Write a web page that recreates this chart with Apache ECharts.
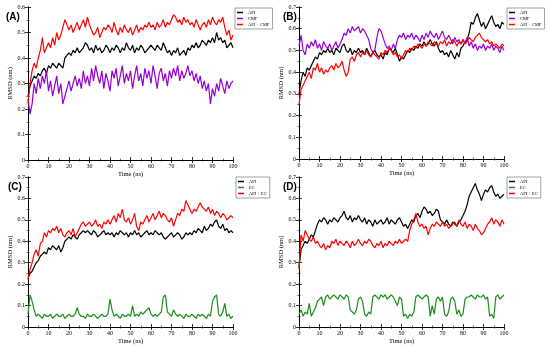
<!DOCTYPE html>
<html><head><meta charset="utf-8">
<script src="https://cdn.jsdelivr.net/npm/echarts@6/dist/echarts.min.js"></script>
<style>html,body{margin:0;padding:0;background:#fff}#c{width:550px;height:346px}</style>
</head><body><div id="c"></div>
<script>
const timeNs = Array.from({length:101},(_,i)=>i);
const panelLabels = ['(A)','(B)','(C)','(D)'];
const legendA = ['API','CMF','API + CMF'];
const legendC = ['API','EC','API + EC'];
const yMax = [0.6,0.7,0.7,0.7];

const A_api = [.25,.29,.31,.33,.32,.34,.33,.35,.36,.34,
.37,.36,.38,.37,.36,.38,.37,.36,.40,.41,
.42,.41,.43,.42,.44,.42,.43,.44,.46,.45,
.43,.44,.42,.45,.43,.44,.42,.43,.45,.44,
.42,.44,.43,.45,.44,.42,.44,.43,.46,.44,
.43,.45,.42,.44,.43,.45,.44,.42,.43,.44,
.45,.44,.43,.45,.44,.43,.46,.44,.42,.43,
.41,.43,.42,.44,.41,.42,.43,.41,.44,.43,
.45,.44,.46,.44,.45,.47,.46,.45,.47,.46,
.48,.46,.50,.47,.48,.46,.47,.44,.45,.46,.44];
const A_cmf = [.24,.18,.22,.30,.26,.32,.28,.33,.30,.35,
.27,.31,.25,.29,.33,.26,.30,.22,.25,.28,
.31,.27,.30,.33,.29,.32,.28,.35,.30,.33,
.29,.36,.31,.37,.33,.30,.35,.28,.34,.31,
.27,.35,.32,.36,.29,.33,.37,.30,.34,.31,
.35,.28,.33,.37,.31,.34,.29,.36,.32,.35,
.30,.37,.33,.28,.34,.36,.31,.34,.29,.35,
.32,.36,.33,.37,.31,.35,.32,.34,.37,.33,
.35,.31,.34,.30,.33,.28,.31,.27,.30,.22,
.28,.25,.30,.27,.32,.29,.26,.31,.28,.30,.31];
const A_mix = [.22,.30,.35,.38,.36,.40,.43,.48,.42,.44,
.46,.44,.48,.45,.50,.47,.49,.52,.55,.53,
.51,.53,.50,.52,.54,.51,.53,.55,.52,.56,
.53,.51,.49,.50,.52,.48,.50,.52,.51,.53,
.52,.50,.54,.51,.49,.52,.50,.53,.51,.50,
.52,.49,.51,.53,.50,.52,.51,.53,.52,.54,
.52,.53,.51,.54,.52,.53,.55,.52,.54,.53,
.55,.57,.56,.54,.55,.53,.56,.54,.55,.53,
.54,.52,.55,.53,.51,.53,.54,.52,.55,.53,
.56,.54,.53,.55,.54,.56,.52,.49,.51,.47,.49];

const B_api = [.30,.36,.40,.38,.42,.41,.43,.45,.47,.46,
.49,.48,.50,.49,.51,.49,.50,.48,.51,.50,
.49,.52,.53,.50,.49,.51,.48,.50,.49,.51,
.49,.50,.48,.51,.49,.47,.49,.50,.48,.47,
.48,.46,.49,.48,.51,.50,.49,.51,.48,.45,
.47,.46,.48,.50,.49,.51,.50,.52,.51,.53,
.52,.54,.52,.53,.55,.53,.52,.54,.51,.49,
.50,.48,.49,.47,.50,.48,.46,.49,.47,.51,
.52,.54,.55,.58,.63,.62,.65,.67,.64,.61,
.63,.60,.62,.64,.66,.63,.61,.62,.60,.63,.62];
const B_cmf = [.52,.57,.50,.48,.53,.51,.54,.52,.55,.51,
.53,.50,.54,.52,.51,.53,.50,.52,.54,.51,
.53,.55,.58,.57,.60,.58,.61,.59,.60,.61,
.58,.60,.59,.57,.55,.51,.49,.50,.56,.60,
.59,.56,.53,.51,.52,.50,.53,.51,.55,.57,
.56,.58,.55,.57,.56,.58,.55,.57,.56,.54,
.57,.55,.58,.56,.59,.57,.56,.58,.55,.57,
.59,.56,.55,.57,.55,.53,.56,.54,.55,.53,
.55,.53,.56,.52,.54,.51,.53,.50,.52,.51,
.53,.50,.52,.51,.53,.50,.52,.51,.49,.52,.50];
const B_mix = [.25,.32,.34,.36,.38,.40,.37,.42,.41,.44,
.40,.42,.39,.41,.40,.42,.43,.41,.44,.42,
.43,.45,.41,.38,.40,.46,.47,.45,.48,.49,
.47,.49,.48,.50,.48,.47,.49,.48,.47,.46,
.49,.48,.50,.49,.51,.50,.48,.49,.47,.48,
.46,.48,.50,.49,.51,.50,.52,.51,.53,.52,
.51,.53,.52,.54,.53,.52,.54,.53,.52,.54,
.53,.55,.52,.54,.53,.55,.54,.52,.54,.53,
.55,.53,.54,.56,.55,.54,.56,.57,.58,.56,
.55,.54,.55,.53,.54,.52,.53,.52,.51,.53,.52];

const C_api = [.23,.25,.26,.28,.30,.31,.33,.34,.35,.34,
.37,.36,.38,.37,.36,.38,.35,.37,.40,.41,
.42,.41,.43,.42,.41,.43,.44,.45,.44,.45,
.44,.43,.45,.44,.42,.43,.44,.45,.43,.44,
.43,.44,.42,.44,.43,.45,.44,.43,.44,.42,
.44,.43,.45,.43,.44,.42,.43,.44,.45,.43,
.44,.43,.45,.44,.43,.44,.42,.41,.42,.43,
.44,.42,.43,.44,.43,.41,.42,.44,.43,.44,
.43,.45,.44,.46,.45,.44,.47,.45,.46,.48,
.47,.49,.50,.47,.46,.48,.45,.46,.44,.45,.44];
const C_ec = [.06,.15,.12,.08,.05,.06,.05,.04,.06,.05,
.05,.06,.04,.05,.06,.05,.05,.06,.04,.05,
.06,.05,.05,.06,.09,.06,.05,.05,.04,.06,
.05,.05,.06,.05,.04,.05,.06,.05,.05,.06,
.13,.08,.05,.06,.05,.04,.06,.05,.05,.06,
.05,.10,.05,.06,.05,.07,.06,.07,.08,.09,
.06,.05,.06,.05,.06,.07,.14,.15,.07,.06,
.05,.08,.06,.05,.06,.05,.04,.06,.05,.05,
.06,.05,.04,.06,.05,.06,.05,.04,.06,.05,
.12,.14,.15,.06,.05,.07,.11,.05,.06,.04,.05];
const C_mix = [.22,.27,.30,.34,.36,.33,.39,.40,.44,.42,
.45,.44,.46,.45,.47,.44,.46,.43,.42,.44,
.45,.43,.46,.42,.44,.46,.48,.49,.47,.48,
.49,.47,.48,.50,.47,.48,.46,.49,.48,.50,
.48,.50,.52,.49,.53,.51,.55,.50,.49,.51,
.48,.50,.53,.47,.45,.49,.48,.50,.52,.49,
.51,.53,.50,.52,.54,.51,.53,.52,.50,.49,
.51,.47,.50,.53,.52,.55,.54,.59,.57,.55,
.53,.55,.54,.56,.58,.56,.55,.54,.56,.53,
.55,.52,.54,.53,.51,.53,.52,.50,.51,.52,.51];

const D_api = [.28,.36,.38,.40,.39,.41,.43,.42,.45,.48,
.50,.49,.51,.50,.48,.50,.49,.51,.50,.49,
.51,.52,.54,.51,.50,.52,.49,.51,.50,.52,
.50,.49,.51,.48,.50,.49,.47,.50,.48,.49,
.50,.48,.49,.51,.48,.50,.49,.48,.50,.51,
.49,.47,.48,.46,.48,.50,.49,.52,.53,.51,
.54,.56,.55,.53,.54,.52,.53,.55,.54,.50,
.49,.48,.50,.48,.47,.49,.48,.47,.49,.50,
.52,.54,.57,.61,.63,.65,.67,.64,.62,.59,
.62,.64,.63,.65,.66,.63,.61,.62,.60,.61,.62];
const D_ec = [.06,.08,.05,.07,.06,.11,.05,.07,.09,.12,
.13,.14,.10,.14,.15,.13,.14,.15,.14,.13,
.15,.14,.13,.15,.14,.08,.07,.06,.08,.13,
.14,.12,.06,.05,.07,.06,.14,.15,.14,.13,
.15,.14,.15,.13,.14,.15,.14,.12,.10,.14,
.13,.05,.06,.04,.06,.05,.07,.14,.15,.14,
.13,.14,.15,.14,.05,.10,.06,.13,.14,.12,
.14,.06,.05,.07,.13,.14,.12,.06,.08,.05,
.06,.13,.14,.14,.15,.14,.13,.15,.14,.14,
.15,.13,.14,.05,.06,.04,.14,.15,.13,.14,.15];
const D_mix = [.27,.43,.40,.45,.43,.41,.40,.42,.39,.40,
.38,.37,.39,.36,.38,.37,.40,.39,.41,.38,
.40,.39,.38,.40,.39,.37,.40,.38,.39,.41,
.39,.38,.40,.39,.41,.40,.38,.37,.39,.38,
.40,.37,.39,.38,.40,.39,.38,.40,.39,.41,
.39,.40,.41,.40,.45,.48,.50,.53,.49,.47,
.48,.46,.47,.43,.46,.48,.47,.49,.48,.47,
.49,.47,.48,.46,.47,.48,.49,.47,.50,.48,
.47,.49,.46,.48,.47,.45,.48,.46,.45,.43,
.44,.46,.48,.49,.51,.48,.50,.49,.47,.50,.48];

const C_BLACK='#000000', C_RED='#ff0000', C_VIOLET='#9400d3', C_GREEN='#1a8f1a';
const panels = [
  {grid:{left:28,top:7,width:205,height:153}, names:legendA, data:[A_api,A_cmf,A_mix], colors:[C_BLACK,C_VIOLET,C_RED], legend:{left:235,top:8}, label:{x:6,y:12}},
  {grid:{left:299,top:7,width:205,height:152}, names:legendA, data:[B_api,B_cmf,B_mix], colors:[C_BLACK,C_VIOLET,C_RED], legend:{left:507,top:8}, label:{x:283,y:12}},
  {grid:{left:28,top:177,width:205,height:152}, names:legendC, data:[C_api,C_ec,C_mix], colors:[C_BLACK,C_GREEN,C_RED], legend:{left:236,top:177}, label:{x:8,y:182}},
  {grid:{left:299,top:177,width:205,height:152}, names:legendC, data:[D_api,D_ec,D_mix], colors:[C_BLACK,C_GREEN,C_RED], legend:{left:507,top:177}, label:{x:283,y:182}}
];
const FONT='Liberation Serif';
const grids=[], xAxes=[], yAxes=[], series=[], graphics=[];
panels.forEach((p,i)=>{
  grids.push(Object.assign({containLabel:false},p.grid));
  const common = {gridIndex:i, min:0, axisLine:{show:true,lineStyle:{color:'#000',width:1}}, splitLine:{show:false},
    axisTick:{inside:true,length:3,lineStyle:{color:'#000',width:0.8}},
    minorTick:{show:true,splitNumber:2,length:1.5,lineStyle:{color:'#000',width:0.6}}};
  xAxes.push(Object.assign({}, common, {type:'value', max:100, interval:10, position:'bottom',
    axisLabel:{fontFamily:FONT,fontSize:6,color:'#000',margin:3},
    name:'Time (ns)', nameLocation:'middle', nameGap:11, nameTextStyle:{fontFamily:FONT,fontSize:6.5,color:'#000'}}));
  xAxes.push(Object.assign({}, common, {type:'value', max:100, interval:10, position:'top', axisLabel:{show:false}}));
  yAxes.push(Object.assign({}, common, {type:'value', max:yMax[i], interval:0.1, position:'left',
    axisLabel:{fontFamily:FONT,fontSize:6,color:'#000',margin:3},
    name:'RMSD (nm)', nameLocation:'middle', nameGap:13, nameTextStyle:{fontFamily:FONT,fontSize:6.5,color:'#000'}}));
  yAxes.push(Object.assign({}, common, {type:'value', max:yMax[i], interval:0.1, position:'right', axisLabel:{show:false}}));
  p.data.forEach((arr,k)=>{
    series.push({type:'line', name:p.names[k], xAxisIndex:2*i, yAxisIndex:2*i, showSymbol:false, symbol:'none',
      data: arr.map((v,j)=>[timeNs[j],v]), lineStyle:{color:p.colors[k],width:1.2}, itemStyle:{color:p.colors[k]},
      silent:true, z: 2+k});
  });
  graphics.push({type:'text', left:p.label.x, top:p.label.y, style:{text:panelLabels[i], font:'bold 10px Arial', fill:'#000'}});
});
const legends = panels.map((p,i)=>({
  left:p.legend.left, top:p.legend.top, orient:'vertical', itemGap:1, itemWidth:6, itemHeight:1.5,
  padding:[2,3,2,2], borderColor:'#888', borderWidth:0.8, backgroundColor:'#fff',
  textStyle:{fontFamily:FONT,fontSize:4.5,color:'#000'},
  data: p.names.map((n,k)=>({name:n, icon:'rect', itemStyle:{color:p.colors[k]}})),
  selectedMode:false
}));
const chart = echarts.init(document.getElementById('c'), null, {renderer:'canvas'});
chart.setOption({animation:false, backgroundColor:'#fff', grid:grids, xAxis:xAxes, yAxis:yAxes, series:series, legend:legends, graphic:graphics});
</script></body></html>
